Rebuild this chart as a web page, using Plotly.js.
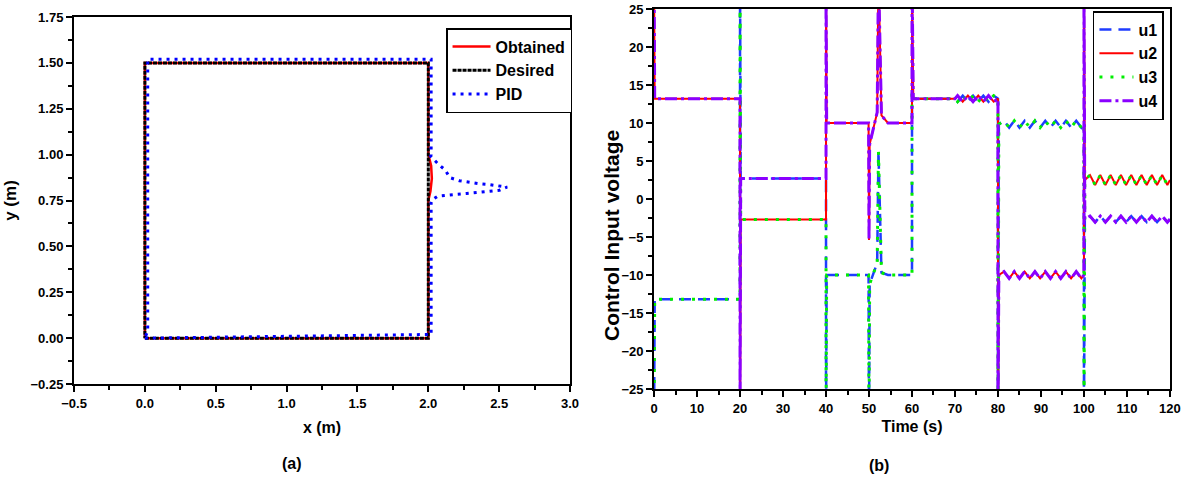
<!DOCTYPE html>
<html>
<head>
<meta charset="utf-8">
<script src="https://cdn.plot.ly/plotly-3.0.1.min.js"></script>
<style>html,body{margin:0;padding:0;background:#fff;}#chart{width:1192px;height:479px;}</style>
</head>
<body>
<div id="chart"></div>
<script>
// ---------- Panel (a): trajectories ----------
const desiredX = [0, 2, 2, 0, 0];
const desiredY = [0, 0, 1.5, 1.5, 0];

const obtainedX = [0, 2, 2, 2.015, 2.025, 2.02, 2, 2, 0, 0];
const obtainedY = [0, 0, 0.75, 0.80, 0.87, 0.94, 1.0, 1.5, 1.5, 0];

const pidX = [0, 2.02, 2.02, 2.024, 2.067, 2.137, 2.203, 2.271, 2.367, 2.436, 2.501, 2.556,
              2.487, 2.420, 2.356, 2.288, 2.219, 2.151, 2.120, 2.071, 2.017, 2.02, 2.02, 0.02, 0.02, 0];
const pidY = [0, 0.02, 0.74, 0.752, 0.774, 0.781, 0.784, 0.788, 0.797, 0.800, 0.806, 0.823,
              0.832, 0.838, 0.842, 0.848, 0.858, 0.875, 0.916, 0.948, 0.991, 1.0, 1.52, 1.52, 0.04, 0];

// ---------- Panel (b): control inputs ----------
const time = [
  0, 0.15, 20, 20, 20.15, 40, 40, 40.15, 49.9, 50.0, 50.15, 51.9, 52.2, 52.9, 54.4, 60, 60, 60.3, 70,
  70.6, 71.8, 73.0, 74.2, 75.4, 76.6, 77.8, 79.0, 80,
  80, 80.2, 81.4, 82.6, 83.8, 85.0, 86.2, 87.4, 88.6, 89.8, 91.0, 92.2, 93.4, 94.6, 95.8, 97.0, 98.2, 99.4, 100,
  100, 100.2, 101.4, 102.6, 103.8, 105.0, 106.2, 107.4, 108.6, 109.8, 111.0, 112.2, 113.4, 114.6, 115.8, 117.0, 118.2, 119.4, 120
];
const u1 = [
  -30, -13.2, -13.2, 30, 2.7, 2.7, -30, -10, -10, -30, -11.2, -8.4, 6.2, -9.7, -10, -10, 14.0, 13.2, 13.2,
  12.8, 13.6, 12.8, 13.6, 12.8, 13.6, 12.8, 13.6, 13.2,
  -30, 9.85, 10.3, 9.4, 10.3, 9.4, 10.3, 9.4, 10.3, 9.4, 10.3, 9.4, 10.3, 9.4, 10.3, 9.4, 10.3, 9.4, 9.85,
  -30, -2.65, -2.25, -3.05, -2.25, -3.05, -2.25, -3.05, -2.25, -3.05, -2.25, -3.05, -2.25, -3.05, -2.25, -3.05, -2.25, -3.05, -2.65
];
const u2 = [
  30, 13.2, 13.2, -30, -2.7, -2.7, 30, 10, 10, -5.4, 7.2, 11.4, 30, 11.0, 10, 10, 30, 13.2, 13.2,
  13.6, 12.8, 13.6, 12.8, 13.6, 12.8, 13.6, 12.8, 13.2,
  -30, -10, -9.55, -10.45, -9.55, -10.45, -9.55, -10.45, -9.55, -10.45, -9.55, -10.45, -9.55, -10.45, -9.55, -10.45, -9.55, -10.45, -10,
  30, 2.5, 3.15, 1.85, 3.15, 1.85, 3.15, 1.85, 3.15, 1.85, 3.15, 1.85, 3.15, 1.85, 3.15, 1.85, 3.15, 1.85, 2.5
];
const u3 = [
  -30, -13.2, -13.2, 30, -2.7, -2.7, -30, -10, -10, -30, -11.2, -8.4, 6.2, -9.7, -10, -10, 14.0, 13.2, 13.2,
  12.8, 13.6, 12.8, 13.6, 12.8, 13.6, 12.8, 13.6, 13.2,
  -30, 9.85, 10.3, 9.4, 10.3, 9.4, 10.3, 9.4, 10.3, 9.4, 10.3, 9.4, 10.3, 9.4, 10.3, 9.4, 10.3, 9.4, 9.85,
  -30, 2.5, 3.15, 1.85, 3.15, 1.85, 3.15, 1.85, 3.15, 1.85, 3.15, 1.85, 3.15, 1.85, 3.15, 1.85, 3.15, 1.85, 2.5
];
const u4 = [
  30, 13.2, 13.2, -30, 2.7, 2.7, 30, 10, 10, -5.4, 7.2, 11.4, 30, 11.0, 10, 10, 30, 13.2, 13.2,
  13.6, 12.8, 13.6, 12.8, 13.6, 12.8, 13.6, 12.8, 13.2,
  -30, -10, -9.55, -10.45, -9.55, -10.45, -9.55, -10.45, -9.55, -10.45, -9.55, -10.45, -9.55, -10.45, -9.55, -10.45, -9.55, -10.45, -10,
  30, -2.65, -2.25, -3.05, -2.25, -3.05, -2.25, -3.05, -2.25, -3.05, -2.25, -3.05, -2.25, -3.05, -2.25, -3.05, -2.25, -3.05, -2.65
];

const FONT = '"Liberation Sans", Arial, sans-serif';

const traces = [
  {x: obtainedX, y: obtainedY, name: 'Obtained', mode: 'lines', xaxis: 'x', yaxis: 'y', legend: 'legend',
   line: {color: '#ff0000', width: 2.5}},
  {x: desiredX, y: desiredY, name: 'Desired', mode: 'lines', xaxis: 'x', yaxis: 'y', legend: 'legend',
   line: {color: '#000000', width: 3, dash: '4px,1px'}},
  {x: pidX, y: pidY, name: 'PID', mode: 'lines', xaxis: 'x', yaxis: 'y', legend: 'legend',
   line: {color: '#0000ff', width: 3, dash: '3px,5px'}},

  {x: time, y: u1, name: 'u1', mode: 'lines', xaxis: 'x2', yaxis: 'y2', legend: 'legend2',
   line: {color: '#1f3cff', width: 2.5, dash: '12px,7px'}},
  {x: time, y: u2, name: 'u2', mode: 'lines', xaxis: 'x2', yaxis: 'y2', legend: 'legend2',
   line: {color: '#ff0000', width: 2}},
  {x: time, y: u3, name: 'u3', mode: 'lines', xaxis: 'x2', yaxis: 'y2', legend: 'legend2',
   line: {color: '#00ee00', width: 3, dash: '3px,8px'}},
  {x: time, y: u4, name: 'u4', mode: 'lines', xaxis: 'x2', yaxis: 'y2', legend: 'legend2',
   line: {color: '#8a00ff', width: 3, dash: '12px,4px,3px,4px'}}
];

const tickFont = {family: FONT, size: 13, color: '#000', weight: 'bold'};
function mainAxis(o) {
  return Object.assign({
    showline: true, linewidth: 2, linecolor: '#000', mirror: true,
    ticks: 'outside', ticklen: 6, tickwidth: 2, tickcolor: '#000',
    showgrid: false, zeroline: false, tickfont: tickFont, fixedrange: true
  }, o);
}
function overlayAxis(o) {
  return Object.assign({
    showline: false, ticks: 'inside', ticklen: 6, tickwidth: 2, tickcolor: '#000',
    showticklabels: false, showgrid: false, zeroline: false, fixedrange: true
  }, o);
}

const layout = {
  width: 1192, height: 479,
  margin: {l: 0, r: 0, t: 0, b: 0},
  paper_bgcolor: '#fff', plot_bgcolor: '#fff',
  showlegend: true,
  font: {family: FONT, color: '#000'},
  xaxis: mainAxis({domain: [0.0621, 0.4782], anchor: 'y', range: [-0.5, 3], dtick: 0.5, tick0: 0, tickformat: '.1f',
    minor: {ticks: 'outside', ticklen: 4, tickwidth: 2, tickcolor: '#000', dtick: 0.25, tick0: 0},
    title: {text: 'x (m)', font: {family: FONT, size: 16, weight: 'bold', color: '#000'}, standoff: 12}}),
  yaxis: mainAxis({domain: [0.1983, 0.9645], anchor: 'x', range: [-0.25, 1.75], dtick: 0.25, tick0: 0, tickformat: '.2f',
    minor: {ticks: 'outside', ticklen: 4, tickwidth: 2, tickcolor: '#000', dtick: 0.125, tick0: 0},
    title: {text: 'y (m)', font: {family: FONT, size: 17, weight: 'bold', color: '#000'}, standoff: 10}}),
  xaxis3: overlayAxis({overlaying: 'x', anchor: 'y', side: 'top', range: [-0.5, 3], dtick: 0.5, tick0: 0,
    minor: {ticks: 'inside', ticklen: 4, tickwidth: 2, tickcolor: '#000', dtick: 0.25, tick0: 0}}),
  yaxis3: overlayAxis({overlaying: 'y', anchor: 'x', side: 'right', range: [-0.25, 1.75], dtick: 0.25, tick0: 0,
    minor: {ticks: 'inside', ticklen: 4, tickwidth: 2, tickcolor: '#000', dtick: 0.125, tick0: 0}}),

  xaxis2: mainAxis({domain: [0.5487, 0.9815], anchor: 'y2', range: [0, 120], dtick: 10, tick0: 0,
    minor: {ticks: 'outside', ticklen: 4, tickwidth: 2, tickcolor: '#000', dtick: 5, tick0: 0},
    title: {text: 'Time (s)', font: {family: FONT, size: 16, weight: 'bold', color: '#000'}, standoff: 6}}),
  yaxis2: mainAxis({domain: [0.1879, 0.9812], anchor: 'x2', range: [-25, 25], dtick: 5, tick0: 0,
    minor: {ticks: 'outside', ticklen: 4, tickwidth: 2, tickcolor: '#000', dtick: 2.5, tick0: 0}}),
  xaxis4: overlayAxis({overlaying: 'x2', anchor: 'y2', side: 'top', range: [0, 120], dtick: 10, tick0: 0,
    minor: {ticks: 'inside', ticklen: 4, tickwidth: 2, tickcolor: '#000', dtick: 5, tick0: 0}}),
  yaxis4: overlayAxis({overlaying: 'y2', anchor: 'x2', side: 'right', range: [-25, 25], dtick: 5, tick0: 0,
    minor: {ticks: 'inside', ticklen: 4, tickwidth: 2, tickcolor: '#000', dtick: 2.5, tick0: 0}}),

  legend: {x: 0.3742, y: 0.9415, xanchor: 'left', yanchor: 'top', bgcolor: '#fff',
    bordercolor: '#000', borderwidth: 1.5, itemwidth: 38, tracegroupgap: 0,
    font: {family: FONT, size: 16, weight: 'bold', color: '#000'}},
  legend2: {x: 0.9169, y: 0.977, xanchor: 'left', yanchor: 'top', bgcolor: '#fff',
    bordercolor: '#000', borderwidth: 1.5, itemwidth: 34, tracegroupgap: 0,
    font: {family: FONT, size: 16, weight: 'bold', color: '#000'}},

  annotations: [
    {text: 'Control Input voltage', xref: 'paper', yref: 'paper', x: 0.5134, y: 0.5094, textangle: -90,
     xanchor: 'center', yanchor: 'middle', showarrow: false,
     font: {family: FONT, size: 21, weight: 'bold', color: '#000'}},
    {text: '(a)', xref: 'paper', yref: 'paper', x: 0.245, y: 0.0334, xanchor: 'center', yanchor: 'middle',
     showarrow: false, font: {family: FONT, size: 16, weight: 'bold', color: '#000'}},
    {text: '(b)', xref: 'paper', yref: 'paper', x: 0.7374, y: 0.029, xanchor: 'center', yanchor: 'middle',
     showarrow: false, font: {family: FONT, size: 16, weight: 'bold', color: '#000'}}
  ]
};

Plotly.newPlot('chart', traces, layout, {displayModeBar: false, staticPlot: true});
</script>
</body>
</html>
